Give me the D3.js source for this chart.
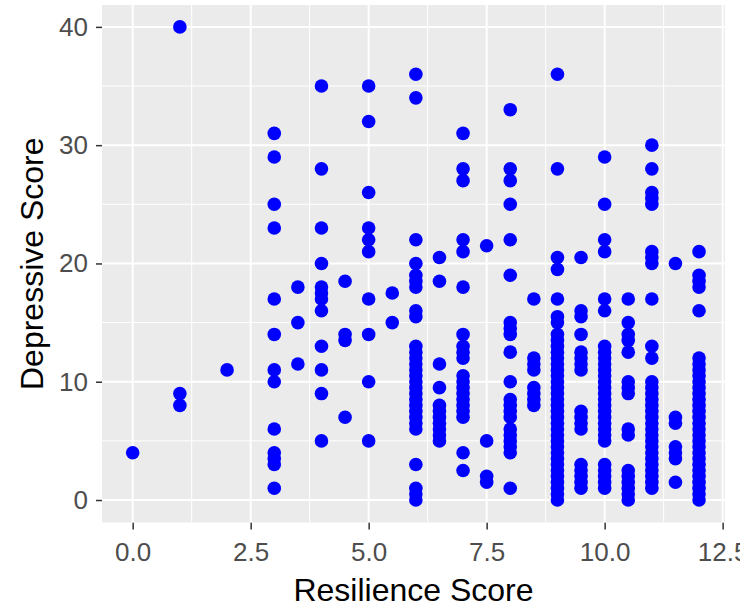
<!DOCTYPE html>
<html>
<head>
<meta charset="utf-8">
<script src="https://cdn.jsdelivr.net/npm/d3@7"></script>
<style>
  html, body { margin: 0; padding: 0; background: #ffffff; }
  svg { display: block; }
  text { font-family: "Liberation Sans", Arial, Helvetica, sans-serif; }
</style>
</head>
<body>
<div id="chart"></div>
<script>
// Resilience score levels (x) and the depressive scores observed at each level (y)
const resilienceLevels = [0, 1, 2, 3, 3.5, 4, 4.5, 5, 5.5, 6, 6.5, 7, 7.5, 8, 8.5, 9, 9.5, 10, 10.5, 11, 11.5, 12];

const depAt0   = [4];
const depAt1   = [40, 9, 8];
const depAt2   = [11];
const depAt3   = [31, 29, 25, 23, 17, 14, 11, 10, 6, 4, 3.5, 3, 1];
const depAt3_5 = [18, 15, 11.5];
const depAt4   = [35, 28, 23, 20, 18, 17.5, 17, 16, 13, 11, 9, 5];
const depAt4_5 = [18.5, 14, 13.5, 7];
const depAt5   = [35, 32, 26, 23, 22, 21, 17, 14, 10, 5];
const depAt5_5 = [17.5, 15];
const depAt6   = [36, 34, 22, 20, 19, 18.5, 18, 16, 15.5, 13, 12.5, 12, 11.5, 11, 10.5, 10, 9.5, 9, 8.5, 8, 7.5, 7, 6.5, 6, 3, 1, 0.5, 0];
const depAt6_5 = [20.5, 18.5, 11.5, 9.5, 8, 7.5, 7, 6.5, 6, 5.5, 5];
const depAt7   = [31, 28, 27, 22, 21, 18, 14, 13, 12.5, 12, 10.5, 10, 9.5, 9, 8.5, 8, 7.5, 7, 4, 2.5];
const depAt7_5 = [21.5, 5, 2, 1.5];
const depAt8   = [33, 28, 27, 25, 22, 19, 15, 14.5, 14, 12.5, 10, 8.5, 8, 7.5, 7, 6, 5.5, 5, 4.5, 4, 1];
const depAt8_5 = [17, 12, 11.5, 11, 9.5, 9, 8.5, 8];
const depAt9   = [36, 28, 20.5, 19.5, 17, 15.5, 15, 14, 13.5, 13, 12.5, 12, 11.5, 11, 10.5, 10, 9.5, 9, 8.5, 8, 7.5, 7, 6.5, 6, 5.5, 5, 4.5, 4, 3.5, 3, 2.5, 2, 1.5, 1, 0.5, 0];
const depAt9_5 = [20.5, 16, 15.5, 14, 12.5, 12, 11.5, 11, 7.5, 7, 6.5, 6, 3, 2.5, 2, 1.5, 1];
const depAt10  = [29, 25, 22, 21, 17, 16, 13, 12.5, 12, 11.5, 11, 10.5, 10, 9.5, 9, 8.5, 8, 7.5, 7, 6.5, 6, 5.5, 5, 3, 2.5, 2, 1.5, 1];
const depAt10_5 = [17, 15, 14, 13.5, 12.5, 10, 9.5, 9, 6, 5.5, 2.5, 2, 1.5, 1, 0.5, 0];
const depAt11  = [30, 28, 26, 25.5, 25, 21, 20.5, 20, 17, 13, 12, 10, 9.5, 9, 8.5, 8, 7.5, 7, 6.5, 6, 5.5, 5, 4.5, 4, 3.5, 3, 2.5, 2, 1.5, 1];
const depAt11_5 = [20, 7, 6.5, 4.5, 4, 3.5, 1.5];
const depAt12  = [21, 19, 18.5, 18, 16, 12, 11.5, 11, 10.5, 10, 9.5, 9, 8.5, 8, 7.5, 7, 6.5, 6, 5.5, 5, 4.5, 4, 3.5, 3, 2.5, 2, 1.5, 1, 0.5, 0];

const depressiveByLevel = [depAt0, depAt1, depAt2, depAt3, depAt3_5, depAt4, depAt4_5, depAt5, depAt5_5,
  depAt6, depAt6_5, depAt7, depAt7_5, depAt8, depAt8_5, depAt9, depAt9_5, depAt10, depAt10_5,
  depAt11, depAt11_5, depAt12];

const xTicks = [0, 2.5, 5, 7.5, 10, 12.5];
const yTicks = [0, 10, 20, 30, 40];
const xTitle = "Resilience Score";
const yTitle = "Depressive Score";

// Flatten into (resilience, depressive) pairs
const points = [];
resilienceLevels.forEach((r, i) => {
  depressiveByLevel[i].forEach(d => points.push({ resilience: r, depressive: d }));
});

const width = 756, height = 607;
const panel = { left: 102, right: 725, top: 5, bottom: 522.5 };

const x = d3.scaleLinear().domain([-0.65, 12.55]).range([panel.left, panel.right]);
const y = d3.scaleLinear().domain([-1.9, 41.85]).range([panel.bottom, panel.top]);

const svg = d3.select("#chart").append("svg")
  .attr("width", width).attr("height", height);

svg.append("rect").attr("width", width).attr("height", height).attr("fill", "#ffffff");

svg.append("defs").append("clipPath").attr("id", "page-clip")
  .append("rect").attr("x", 0).attr("y", 0).attr("width", 740).attr("height", height);

// Panel background
svg.append("rect")
  .attr("x", panel.left).attr("y", panel.top)
  .attr("width", panel.right - panel.left).attr("height", panel.bottom - panel.top)
  .attr("fill", "#EBEBEB");

// Minor grid (halfway between major breaks)
const xMinor = d3.pairs(xTicks).map(([a, b]) => (a + b) / 2);
const yMinor = d3.pairs(yTicks).map(([a, b]) => (a + b) / 2);
const grid = svg.append("g");
grid.selectAll(".xminor").data(xMinor).join("line")
  .attr("x1", d => x(d)).attr("x2", d => x(d))
  .attr("y1", panel.top).attr("y2", panel.bottom)
  .attr("stroke", "#ffffff").attr("stroke-width", 1);
grid.selectAll(".yminor").data(yMinor).join("line")
  .attr("x1", panel.left).attr("x2", panel.right)
  .attr("y1", d => y(d)).attr("y2", d => y(d))
  .attr("stroke", "#ffffff").attr("stroke-width", 1);
// Major grid
grid.selectAll(".xmajor").data(xTicks).join("line")
  .attr("x1", d => x(d)).attr("x2", d => x(d))
  .attr("y1", panel.top).attr("y2", panel.bottom)
  .attr("stroke", "#ffffff").attr("stroke-width", 2);
grid.selectAll(".ymajor").data(yTicks).join("line")
  .attr("x1", panel.left).attr("x2", panel.right)
  .attr("y1", d => y(d)).attr("y2", d => y(d))
  .attr("stroke", "#ffffff").attr("stroke-width", 2);

// Points
svg.append("g").selectAll("circle").data(points).join("circle")
  .attr("cx", d => x(d.resilience))
  .attr("cy", d => y(d.depressive))
  .attr("r", 6.8)
  .attr("fill", "#0000FF");

// Axes
const xAxis = svg.append("g")
  .attr("transform", `translate(0,${panel.bottom})`)
  .attr("clip-path", "url(#page-clip)")
  .call(d3.axisBottom(x).tickValues(xTicks).tickFormat(d3.format(".1f"))
    .tickSizeInner(7).tickSizeOuter(0).tickPadding(13));
const yAxis = svg.append("g")
  .attr("transform", `translate(${panel.left},0)`)
  .call(d3.axisLeft(y).tickValues(yTicks).tickFormat(d3.format("d"))
    .tickSizeInner(6).tickSizeOuter(0).tickPadding(8));

[xAxis, yAxis].forEach(g => {
  g.select(".domain").remove();
  g.selectAll(".tick line").attr("stroke", "#333333").attr("stroke-width", 1.5);
  g.selectAll(".tick text").attr("fill", "#4D4D4D").attr("font-size", 26)
    .attr("font-family", "'Liberation Sans', Arial, sans-serif");
});

// Axis titles
svg.append("text")
  .attr("x", (panel.left + panel.right) / 2).attr("y", 601)
  .attr("text-anchor", "middle").attr("font-size", 32).attr("fill", "#000000")
  .text(xTitle);
svg.append("text")
  .attr("transform", `translate(43,${(panel.top + panel.bottom) / 2}) rotate(-90)`)
  .attr("text-anchor", "middle").attr("font-size", 32).attr("fill", "#000000")
  .text(yTitle);
</script>
</body>
</html>
